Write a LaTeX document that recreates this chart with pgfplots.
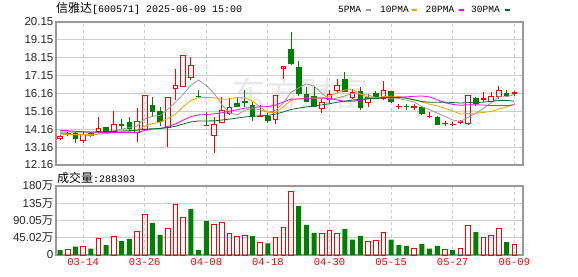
\documentclass[border=0pt]{standalone}
\usepackage{pgfplots}
\pgfplotsset{compat=1.18}
\usepgfplotslibrary{statistics}
\usepackage{fontspec}
\setmainfont{Liberation Sans}
\newfontfamily\cjk{Noto Sans CJK SC}
\newfontfamily\mono{Liberation Mono}
\definecolor{upred}{HTML}{FF0000}
\definecolor{dngreen}{HTML}{008000}
\definecolor{maA}{HTML}{999999}
\definecolor{maB}{HTML}{F5A300}
\definecolor{maC}{HTML}{FF00FF}
\definecolor{maD}{HTML}{006B2B}
\definecolor{gridc}{HTML}{CCCCCC}
\definecolor{framec}{HTML}{999999}
\pgfplotsset{
  candleR/.style={draw=upred, fill=none, line width=0.85pt, solid},
  candleG/.style={draw=dngreen, fill=dngreen, line width=0.85pt, solid},
}
% i, Open, High, Low, Close
\newcommand\cndl[5]{%
  \ifdim #5pt<#2pt
    \def\tmpc{\addplot[candleG, boxplot prepared={draw direction=y, draw position=#1, lower whisker=#4, lower quartile=#5, median=#5, upper quartile=#2, upper whisker=#3, box extend=0.6, whisker extend=0}] coordinates {};}%
  \else
    \def\tmpc{\addplot[candleR, boxplot prepared={draw direction=y, draw position=#1, lower whisker=#4, lower quartile=#2, median=#2, upper quartile=#5, upper whisker=#3, box extend=0.6, whisker extend=0}] coordinates {};}%
  \fi
  \tmpc}
\begin{document}
\begin{tikzpicture}
\path[use as bounding box] (0pt,0pt) rectangle (578pt,276pt);
% watermark
\node[text=black!9] at (300pt,183pt) {\cjk\fontsize{34}{34}\selectfont 东方财富};
% title
\node[anchor=west,inner sep=0] at (56pt,267.5pt) {{\cjk\fontsize{12}{12}\selectfont 信雅达}{\mono\fontsize{10}{10}\selectfont [600571] 2025-06-09 15:00}};
% legend
\node[anchor=west,inner sep=0] at (338pt,266.8pt) {\mono\fontsize{9.5}{9.5}\selectfont 5PMA};
\fill[maA] (365.5pt,265pt) rectangle (370.5pt,266.8pt);
\node[anchor=west,inner sep=0] at (380pt,266.8pt) {\mono\fontsize{9.5}{9.5}\selectfont 10PMA};
\fill[maB] (412pt,265pt) rectangle (417pt,266.8pt);
\node[anchor=west,inner sep=0] at (425.5pt,266.8pt) {\mono\fontsize{9.5}{9.5}\selectfont 20PMA};
\fill[maC] (459pt,265pt) rectangle (464pt,266.8pt);
\node[anchor=west,inner sep=0] at (471pt,266.8pt) {\mono\fontsize{9.5}{9.5}\selectfont 30PMA};
\fill[maD] (505pt,265pt) rectangle (510pt,266.8pt);
% volume title
\node[anchor=west,inner sep=0] at (57pt,98.5pt) {{\cjk\fontsize{12}{12}\selectfont 成交量}{\mono\fontsize{10}{10}\selectfont :288303}};

\begin{axis}[
  at={(56pt,111pt)}, anchor=south west, scale only axis,
  width=467pt, height=143pt,
  xmin=-0.52, xmax=60.13, ymin=12.16, ymax=20.15,
  boxplot/draw direction=y,
  xtick={3,11,19,27,35,43,51,59}, xticklabels={},
  ytick={12.16,13.16,14.16,15.16,16.16,17.15,18.15,19.15,20.15},
  yticklabels={12.16,13.16,14.16,15.16,16.16,17.15,18.15,19.15,20.15},
  xmajorgrids, ymajorgrids,
  x grid style={gridc, dash pattern=on 3pt off 3pt, line width=0.9pt},
  y grid style={gridc, line width=0.9pt},
  major tick length=0pt, tick style={draw=none},
  axis line style={framec, line width=1.1pt},
  yticklabel style={font=\fontsize{11.5}{11.5}\selectfont, text=black!85, inner sep=1pt, xshift=-1.5pt},
  clip=true,
]
\cndl{0}{13.62}{13.82}{13.58}{13.78}
\cndl{1}{13.86}{13.98}{13.82}{13.90}
\cndl{2}{13.90}{13.98}{13.38}{13.65}
\cndl{3}{13.56}{14.06}{13.39}{13.89}
\cndl{4}{13.93}{13.98}{13.72}{13.80}
\cndl{5}{14.02}{14.83}{13.95}{14.21}
\cndl{6}{14.24}{14.30}{13.98}{14.02}
\cndl{7}{14.02}{15.17}{13.95}{14.44}
\cndl{8}{14.42}{14.75}{14.15}{14.38}
\cndl{9}{14.56}{14.83}{14.00}{14.21}
\cndl{10}{13.99}{15.36}{13.45}{14.60}
\cndl{11}{14.12}{16.06}{14.10}{16.06}
\cndl{12}{15.51}{15.96}{14.86}{15.18}
\cndl{13}{15.18}{15.38}{14.36}{14.58}
\cndl{14}{14.28}{15.96}{13.18}{15.94}
\cndl{15}{16.44}{17.52}{15.81}{16.61}
\cndl{16}{16.57}{18.27}{16.50}{18.27}
\cndl{17}{17.06}{18.18}{16.91}{17.75}
\cndl{18}{15.99}{16.35}{15.97}{15.98}
\cndl{19}{14.39}{15.12}{14.38}{14.38}
\cndl{20}{13.84}{14.86}{12.85}{14.42}
\cndl{21}{14.55}{15.98}{14.50}{15.19}
\cndl{22}{15.05}{15.90}{14.95}{15.36}
\cndl{23}{15.60}{15.95}{15.38}{15.46}
\cndl{24}{15.70}{16.35}{15.38}{15.68}
\cndl{25}{15.50}{15.70}{14.64}{14.86}
\cndl{26}{14.88}{15.50}{14.86}{14.90}
\cndl{27}{14.86}{15.05}{14.50}{14.63}
\cndl{28}{14.68}{16.05}{14.43}{16.03}
\cndl{29}{17.54}{17.66}{16.99}{17.65}
\cndl{30}{18.59}{19.57}{17.76}{17.86}
\cndl{31}{17.63}{17.98}{16.00}{16.15}
\cndl{32}{16.10}{16.52}{15.67}{15.72}
\cndl{33}{16.00}{16.52}{15.41}{15.45}
\cndl{34}{15.30}{15.85}{15.08}{15.63}
\cndl{35}{15.85}{16.37}{15.63}{16.10}
\cndl{36}{16.33}{16.98}{16.19}{16.63}
\cndl{37}{16.96}{17.34}{16.22}{16.28}
\cndl{38}{15.91}{16.41}{15.82}{16.19}
\cndl{39}{16.28}{16.50}{15.26}{15.35}
\cndl{40}{15.63}{16.13}{15.41}{15.91}
\cndl{41}{16.18}{16.30}{15.85}{15.95}
\cndl{42}{15.87}{16.83}{15.78}{16.33}
\cndl{43}{16.26}{16.30}{15.65}{15.72}
\cndl{44}{15.42}{15.57}{15.30}{15.44}
\cndl{45}{15.46}{15.58}{15.24}{15.42}
\cndl{46}{15.40}{15.58}{15.22}{15.43}
\cndl{47}{15.38}{15.46}{14.93}{15.04}
\cndl{48}{14.86}{15.12}{14.83}{14.88}
\cndl{49}{14.80}{14.90}{14.38}{14.45}
\cndl{50}{14.46}{14.64}{14.36}{14.49}
\cndl{51}{14.43}{14.54}{14.32}{14.45}
\cndl{52}{14.52}{14.68}{14.49}{14.59}
\cndl{53}{14.46}{16.08}{14.44}{16.06}
\cndl{54}{15.90}{15.97}{15.48}{15.58}
\cndl{55}{15.84}{16.22}{15.70}{15.86}
\cndl{56}{15.72}{16.24}{15.72}{16.00}
\cndl{57}{15.99}{16.58}{15.85}{16.30}
\cndl{58}{16.14}{16.33}{15.98}{16.07}
\cndl{59}{16.18}{16.31}{16.00}{16.21}
% moving averages
\addplot[maA, line width=0.8pt] coordinates {(0,13.92)(1,13.909)(2,13.848)(3,13.835)(4,13.804)(5,13.89)(6,13.914)(7,14.072)(8,14.17)(9,14.252)(10,14.33)(11,14.738)(12,14.886)(13,14.926)(14,15.272)(15,15.674)(16,16.106)(17,16.62)(18,16.904)(19,16.596)(20,16.168)(21,15.546)(22,15.068)(23,14.964)(24,15.224)(25,15.308)(26,15.248)(27,15.104)(28,15.218)(29,15.612)(30,16.218)(31,16.472)(32,16.688)(33,16.572)(34,16.168)(35,15.81)(36,15.906)(37,16.018)(38,16.166)(39,16.11)(40,16.072)(41,15.936)(42,15.946)(43,15.852)(44,15.872)(45,15.778)(46,15.68)(47,15.422)(48,15.258)(49,15.06)(50,14.876)(51,14.676)(52,14.588)(53,14.824)(54,15.048)(55,15.32)(56,15.632)(57,15.978)(58,15.974)(59,16.102)};
\addplot[maB, line width=0.8pt] coordinates {(0,13.85)(1,13.862)(2,13.849)(3,13.86)(4,13.862)(5,13.905)(6,13.912)(7,13.96)(8,14.003)(9,14.028)(10,14.11)(11,14.326)(12,14.479)(13,14.548)(14,14.762)(15,15.002)(16,15.427)(17,15.758)(18,15.918)(19,15.935)(20,15.921)(21,15.83)(22,15.851)(23,15.939)(24,15.913)(25,15.738)(26,15.397)(27,15.086)(28,15.091)(29,15.418)(30,15.763)(31,15.86)(32,15.896)(33,15.895)(34,15.89)(35,16.014)(36,16.189)(37,16.353)(38,16.369)(39,16.139)(40,15.941)(41,15.921)(42,15.982)(43,16.009)(44,15.991)(45,15.925)(46,15.808)(47,15.684)(48,15.555)(49,15.466)(50,15.327)(51,15.178)(52,15.005)(53,15.041)(54,15.054)(55,15.098)(56,15.154)(57,15.283)(58,15.399)(59,15.575)};
\addplot[maC, line width=0.8pt] coordinates {(0,14.10)(1,14.078)(2,14.043)(3,14.02)(4,13.992)(5,13.985)(6,13.969)(7,13.973)(8,13.975)(9,13.968)(10,13.98)(11,14.095)(12,14.165)(13,14.205)(14,14.313)(15,14.454)(16,14.67)(17,14.86)(18,14.961)(19,14.982)(20,15.015)(21,15.079)(22,15.165)(23,15.243)(24,15.337)(25,15.37)(26,15.413)(27,15.423)(28,15.506)(29,15.678)(30,15.842)(31,15.844)(32,15.871)(33,15.915)(34,15.899)(35,15.874)(36,15.792)(37,15.719)(38,15.73)(39,15.778)(40,15.852)(41,15.89)(42,15.939)(43,15.952)(44,15.94)(45,15.969)(46,15.998)(47,16.018)(48,15.962)(49,15.803)(50,15.634)(51,15.55)(52,15.494)(53,15.525)(54,15.523)(55,15.512)(56,15.481)(57,15.484)(58,15.477)(59,15.521)};
\addplot[maD, line width=0.8pt] coordinates {(0,14.0)(1,14.003)(2,13.998)(3,14.001)(4,14.001)(5,14.015)(6,14.022)(7,14.044)(8,14.063)(9,14.077)(10,14.103)(11,14.16)(12,14.188)(13,14.195)(14,14.248)(15,14.324)(16,14.454)(17,14.567)(18,14.622)(19,14.623)(20,14.626)(21,14.672)(22,14.725)(23,14.781)(24,14.844)(25,14.88)(26,14.911)(27,14.934)(28,15.003)(29,15.126)(30,15.263)(31,15.338)(32,15.407)(33,15.459)(34,15.52)(35,15.583)(36,15.67)(37,15.731)(38,15.792)(39,15.83)(40,15.873)(41,15.868)(42,15.906)(43,15.944)(44,15.928)(45,15.889)(46,15.795)(47,15.704)(48,15.668)(49,15.671)(50,15.674)(51,15.65)(52,15.624)(53,15.645)(54,15.642)(55,15.676)(56,15.714)(57,15.77)(58,15.77)(59,15.724)};
\end{axis}

\begin{axis}[
  at={(56pt,21pt)}, anchor=south west, scale only axis,
  width=467pt, height=69pt,
  xmin=-0.52, xmax=60.13, ymin=0, ymax=180,
  xtick={3,11,19,27,35,43,51,59},
  xticklabels={03-14,03-26,04-08,04-18,04-30,05-15,05-27,06-09},
  xticklabel style={text=upred, font=\mono\fontsize{10.5}{10.5}\selectfont, inner sep=1pt, yshift=-2.5pt},
  ytick={0,45.02,90.05,135,180},
  yticklabels={0,{45.02{\cjk 万}},{90.05{\cjk 万}},{135{\cjk 万}},{180{\cjk 万}}},
  yticklabel style={font=\fontsize{11.5}{11.5}\selectfont, text=black!85, inner sep=1pt, xshift=-1.5pt},
  xmajorgrids, ymajorgrids,
  x grid style={gridc, dash pattern=on 3pt off 3pt, line width=0.9pt},
  y grid style={gridc, line width=0.9pt},
  major tick length=0pt, tick style={draw=none},
  axis line style={framec, line width=1.1pt},
]
\addplot[ybar, bar shift=0pt, bar width=4.6pt, draw=upred, fill=none, line width=0.85pt] coordinates {(1,15.7)(3,23.5)(5,43.5)(7,49.6)(10,62.6)(11,106)(14,69.6)(15,133)(16,98.3)(20,80)(21,85.2)(22,56.5)(23,48.7)(24,51.3)(26,33)(28,46)(29,72.2)(30,167)(34,56.5)(35,65.2)(36,56.5)(40,35.7)(41,39.1)(42,59.1)(46,18.3)(50,15.7)(52,18.3)(53,77.4)(55,46)(56,51.3)(57,69.6)(59,28.8)};
\addplot[ybar, bar shift=0pt, bar width=5pt, draw=none, fill=dngreen] coordinates {(0,13)(2,21.7)(4,16.5)(6,26)(8,36.5)(9,41.7)(12,83.5)(13,52.2)(17,120)(18,13)(19,88.7)(25,49.6)(27,30.4)(31,127.8)(32,78.3)(33,57.4)(37,67.8)(38,40)(39,49.6)(43,40)(44,26)(45,23.5)(47,28.7)(48,16.5)(49,23.5)(51,13)(54,60)(58,33.9)};
\end{axis}
\end{tikzpicture}
\end{document}
